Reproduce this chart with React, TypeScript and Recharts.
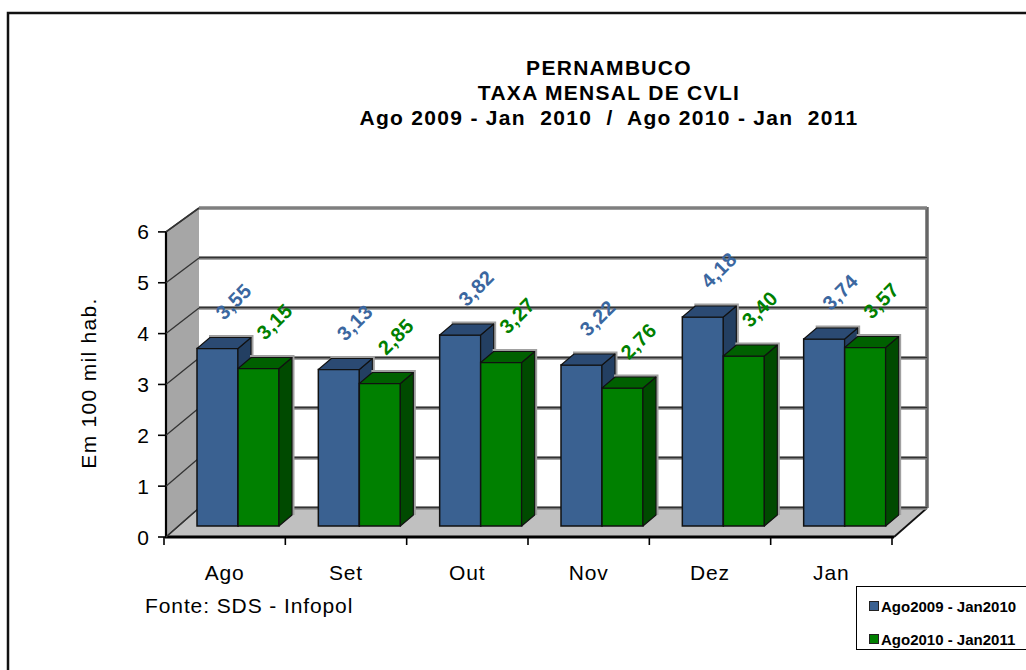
import React from 'react';
import { BarChart, Bar, XAxis, YAxis, CartesianGrid, LabelList, Legend } from 'recharts';

const months = ['Ago', 'Set', 'Out', 'Nov', 'Dez', 'Jan'];
const serie2009 = [3.55, 3.13, 3.82, 3.22, 4.18, 3.74];
const serie2010 = [3.15, 2.85, 3.27, 2.76, 3.4, 3.57];
const yTicks = [0, 1, 2, 3, 4, 5, 6];
const seriesNames = ['Ago2009 - Jan2010', 'Ago2010 - Jan2011'];
const titleLines = ['PERNAMBUCO', 'TAXA MENSAL DE CVLI', 'Ago 2009 - Jan  2010  /  Ago 2010 - Jan  2011'];

const data = months.map((m, i) => ({ month: m, a: serie2009[i], b: serie2010[i] }));

const FONT = '"Liberation Sans", Arial, Helvetica, sans-serif';
const W = 1026;
const H = 670;

// plane in which the bars stand (the chart's plot area)
const PLOT_L = 177;
const PLOT_R = 905;
const PLOT_T = 226;
const PLOT_B = 526;
const Y_W = 40;
const X_H = 30;

// 3D offsets from the bar plane
const BACK = { dx: 22, dy: -18 };
const FRONT = { dx: -11, dy: 11 };
const DEPTH = { dx: 13, dy: -11 };

const frontY = (y: number) => PLOT_B + FRONT.dy - (PLOT_B - y) * 1.017;

const BLUE = { front: '#3a6191', top: '#2b4a73', side: '#233f62', label: '#3b67a0' };
const GREEN = { front: '#008000', top: '#006000', side: '#004a00', label: '#008000' };

const fmt = (v: number) => v.toFixed(2).replace('.', ',');

const make3DShape = (c: typeof BLUE) => (props: any) => {
  const { x, y, width, height } = props;
  if (width == null || height == null) return null;
  const { dx, dy } = DEPTH;
  const r = x + width;
  const b = y + height;
  const top = `${x},${y} ${x + dx},${y + dy} ${r + dx},${y + dy} ${r},${y}`;
  const side = `${r},${y} ${r + dx},${y + dy} ${r + dx},${b + dy} ${r},${b}`;
  const halo = `${x + dx - 1},${y + dy - 1} ${r + dx + 1},${y + dy - 1} ${r + dx + 1},${b + dy}`;
  return (
    <g>
      <polyline points={halo} fill="none" stroke="#a0a0a0" strokeWidth={3} />
      <rect x={x} y={y} width={width} height={height} fill={c.front} stroke="#111" strokeWidth={1.5} />
      <polygon points={side} fill={c.side} stroke="#111" strokeWidth={1.1} strokeLinejoin="round" />
      <polygon points={top} fill={c.top} stroke="#111" strokeWidth={1.1} strokeLinejoin="round" />
    </g>
  );
};

const makeLabel = (color: string) => (props: any) => {
  const { x, y, width, value } = props;
  const cx = x + width / 2 + 16;
  const cy = y - 47;
  return (
    <text
      x={cx}
      y={cy}
      transform={`rotate(-45 ${cx} ${cy})`}
      textAnchor="middle"
      dominantBaseline="central"
      fill={color}
      fontFamily={FONT}
      fontWeight="bold"
      fontSize={20}
      letterSpacing={0.5}
    >
      {fmt(value)}
    </text>
  );
};

const bx = PLOT_L + BACK.dx;
const bxr = PLOT_R + BACK.dx;
const fx = PLOT_L + FRONT.dx;
const fxr = PLOT_R + FRONT.dx;

// walls, floor and gridlines (drawn behind the bars)
const renderGridLine = (props: any) => {
  const { y1, index } = props;
  const by = y1 + BACK.dy;
  const isTop = Math.abs(y1 - PLOT_T) < 0.5;
  const line = (
    <g>
      {isTop ? (
        <line x1={bx} x2={bxr} y1={by} y2={by} stroke="#7f7f7f" strokeWidth={3} />
      ) : (
        <g>
          <line x1={bx} x2={bxr} y1={by} y2={by} stroke="#8a8a8a" strokeWidth={3.5} />
          <line x1={bx} x2={bxr} y1={by - 0.5} y2={by - 0.5} stroke="#333" strokeWidth={1.6} />
        </g>
      )}
      <line x1={fx} y1={frontY(y1)} x2={bx} y2={by} stroke="#333" strokeWidth={1.3} />
    </g>
  );
  if (index !== 0) return line;
  const ftop = frontY(PLOT_T);
  const fbot = frontY(PLOT_B);
  return (
    <g>
      <polygon
        points={`${fx},${ftop} ${bx},${PLOT_T + BACK.dy} ${bx},${PLOT_B + BACK.dy} ${fx},${fbot}`}
        fill="#a6a6a6"
      />
      <rect x={bx} y={PLOT_T + BACK.dy} width={bxr - bx} height={PLOT_B - PLOT_T} fill="#fff" />
      <polygon
        points={`${fx},${fbot} ${bx},${PLOT_B + BACK.dy} ${bxr},${PLOT_B + BACK.dy} ${fxr},${fbot}`}
        fill="#c0c0c0"
      />
      <line x1={bx} x2={bxr} y1={PLOT_T + BACK.dy} y2={PLOT_T + BACK.dy} stroke="#7f7f7f" strokeWidth={3} />
      <line x1={bx} x2={bxr} y1={PLOT_B + BACK.dy} y2={PLOT_B + BACK.dy} stroke="#444" strokeWidth={2} />
      <line x1={bxr} x2={bxr} y1={PLOT_T + BACK.dy - 1} y2={PLOT_B + BACK.dy} stroke="#666" strokeWidth={3.5} />
      <line x1={fx} y1={ftop} x2={bx} y2={PLOT_T + BACK.dy} stroke="#333" strokeWidth={1.6} />
      <line x1={fx} y1={fbot} x2={bx} y2={PLOT_B + BACK.dy} stroke="#333" strokeWidth={1.3} />
      <line x1={fx} x2={fx} y1={ftop} y2={fbot + 1} stroke="#000" strokeWidth={2.2} />
      <line x1={fx - 1} x2={fxr} y1={fbot} y2={fbot} stroke="#000" strokeWidth={3} />
      <line x1={fxr} y1={fbot} x2={bxr} y2={PLOT_B + BACK.dy} stroke="#111" strokeWidth={1.8} />
      {line}
    </g>
  );
};

const YTick = (props: any) => {
  const { y, payload } = props;
  const fy = frontY(y);
  return (
    <g>
      <line x1={fx - 8} x2={fx} y1={fy} y2={fy} stroke="#000" strokeWidth={1.6} />
      <text x={fx - 17} y={fy + 7.5} textAnchor="end" fontFamily={FONT} fontSize={21} fill="#000">
        {payload.value}
      </text>
    </g>
  );
};

const XTick = (props: any) => {
  const { x, payload, index } = props;
  const band = (PLOT_R - PLOT_L) / months.length;
  const cx = x + FRONT.dx;
  const fbot = frontY(PLOT_B);
  const left = cx - band / 2 - 2;
  const right = cx + band / 2 - 2;
  return (
    <g>
      <line x1={left} x2={left} y1={fbot} y2={fbot + 8} stroke="#000" strokeWidth={1.6} />
      {index === months.length - 1 && (
        <line x1={right} x2={right} y1={fbot} y2={fbot + 8} stroke="#000" strokeWidth={1.6} />
      )}
      <text x={cx - 2} y={580} textAnchor="middle" fontFamily={FONT} fontSize={21} letterSpacing={0.9} fill="#000">
        {payload.value}
      </text>
    </g>
  );
};

const renderLegend = () => {
  const colors = [BLUE.front, GREEN.front];
  return (
    <div
      style={{
        position: 'relative',
        width: 190,
        height: 64,
        border: '1.5px solid #000',
        boxSizing: 'border-box',
        background: '#fff',
        fontFamily: FONT,
        fontWeight: 'bold',
        fontSize: 15,
        color: '#000',
      }}
    >
      {seriesNames.map((name, i) => (
        <div
          key={name}
          style={{ position: 'absolute', left: 12, top: 9 + i * 33, height: 20, display: 'flex', alignItems: 'center' }}
        >
          <span
            style={{
              display: 'inline-block',
              width: 8,
              height: 8,
              background: colors[i],
              border: '1px solid #222',
              marginRight: 2,
            }}
          />
          <span style={{ letterSpacing: 0, whiteSpace: 'pre' }}>{name}</span>
        </div>
      ))}
    </div>
  );
};

export default function App() {
  return (
    <div style={{ position: 'absolute', left: 0, top: 0, width: W, height: H, background: '#fff', overflow: 'hidden' }}>
      <BarChart
        width={W}
        height={H}
        data={data}
        margin={{ top: PLOT_T, right: W - PLOT_R, left: PLOT_L - Y_W, bottom: H - PLOT_B - X_H }}
        barGap={0}
        barSize={41}
      >
        <CartesianGrid vertical={false} horizontal={renderGridLine} />
        <XAxis dataKey="month" axisLine={false} tickLine={false} height={X_H} tick={<XTick />} interval={0} />
        <YAxis
          width={Y_W}
          domain={[0, 6]}
          ticks={yTicks}
          axisLine={false}
          tickLine={false}
          tick={<YTick />}
          interval={0}
        />
        <Bar dataKey="a" name={seriesNames[0]} fill={BLUE.front} shape={make3DShape(BLUE)} isAnimationActive={false}>
          <LabelList dataKey="a" content={makeLabel(BLUE.label)} />
        </Bar>
        <Bar dataKey="b" name={seriesNames[1]} fill={GREEN.front} shape={make3DShape(GREEN)} isAnimationActive={false}>
          <LabelList dataKey="b" content={makeLabel(GREEN.label)} />
        </Bar>
        <Legend
          content={renderLegend}
          layout="vertical"
          align="center"
          verticalAlign="middle"
          wrapperStyle={{ left: 856, top: 586, width: 190, height: 64 }}
        />
      </BarChart>
      <svg
        width={W}
        height={H}
        style={{ position: 'absolute', left: 0, top: 0, pointerEvents: 'none' }}
        fontFamily={FONT}
      >
        <path d={`M 8 ${H + 10} L 8 13 L ${W + 20} 13`} fill="none" stroke="#111" strokeWidth={2.5} />
        {titleLines.map((t, i) => (
          <text
            key={t}
            x={609}
            y={75 + i * 25}
            textAnchor="middle"
            fontWeight="bold"
            fontSize={21}
            letterSpacing={1.3}
            style={{ whiteSpace: 'pre' }}
            fill="#000"
          >
            {t}
          </text>
        ))}
        <text
          x={96}
          y={383}
          transform="rotate(-90 96 383)"
          textAnchor="middle"
          fontSize={21}
          letterSpacing={1.3}
          fill="#000"
        >
          Em 100 mil hab.
        </text>
        <text x={145} y={613} fontSize={21} letterSpacing={0.9} fill="#000" style={{ whiteSpace: 'pre' }}>
          Fonte: SDS - Infopol
        </text>
      </svg>
    </div>
  );
}
